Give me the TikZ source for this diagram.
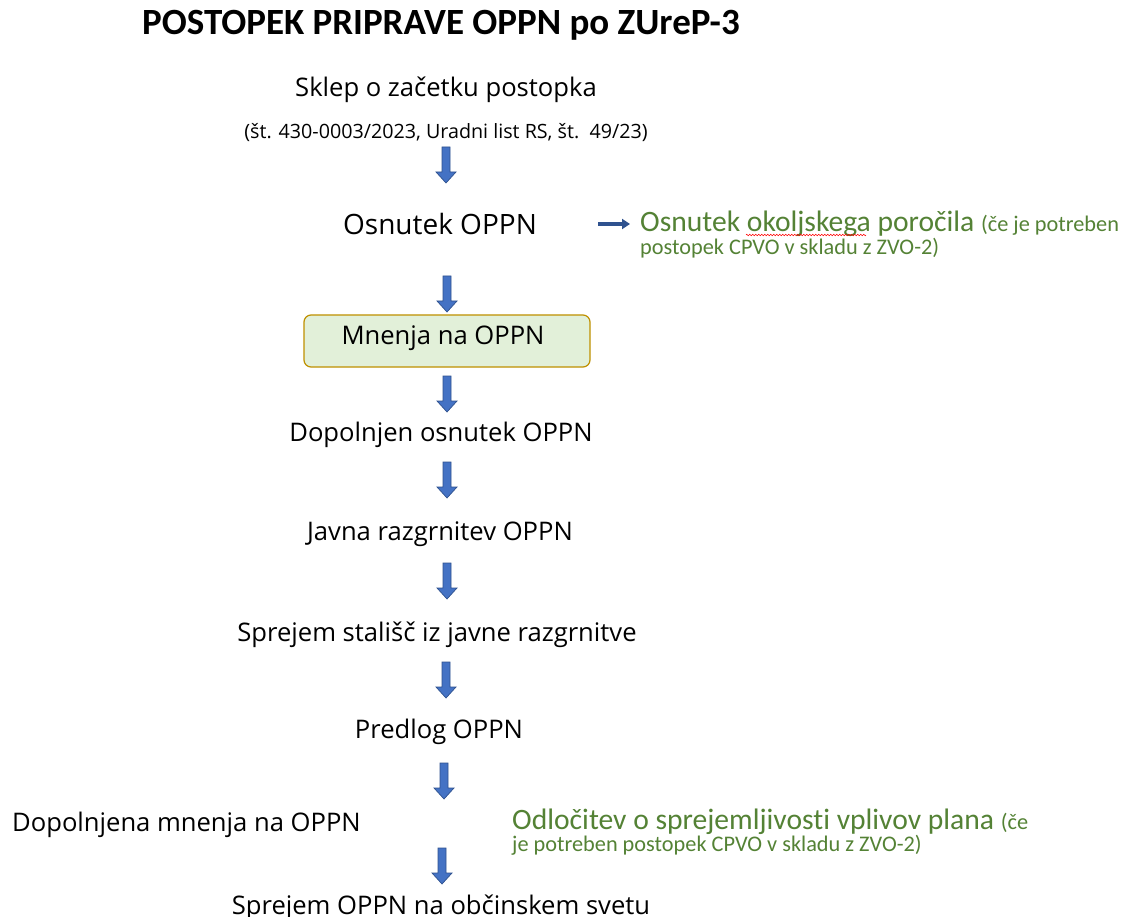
\documentclass[tikz,border=0pt]{standalone}
\usepackage{fontspec}
\setmainfont{Open Sans}
\newfontfamily\calibri[Ligatures=NoCommon]{Carlito}
\usetikzlibrary{calc,arrows.meta,decorations.pathmorphing}
\definecolor{arrowblue}{HTML}{4472C4}
\definecolor{arrowedge}{HTML}{2F528F}
\definecolor{greentxt}{HTML}{548235}
\definecolor{boxfill}{HTML}{E2F0D9}
\definecolor{boxedge}{HTML}{BF9000}
\newcommand{\fs}[1]{\fontsize{#1}{#1}\selectfont}
\begin{document}
\begin{tikzpicture}[x=1pt,y=-1pt,
  steptext/.style={inner sep=0pt, anchor=center, font=\fs{25.6}},
  greenbig/.style={inner sep=0pt, anchor=base west, text=greentxt, font=\calibri\fs{29.6}},
  greensmall/.style={inner sep=0pt, anchor=base west, text=greentxt, font=\calibri\fs{22.3}},
  stepbox/.style={draw=boxedge, fill=boxfill, line width=1.2pt, rounded corners=7pt},
  downarrow/.pic={
    \filldraw[fill=arrowblue, draw=arrowedge, line width=0.7pt]
      (-4,0) -- (4,0) -- (4,25) -- (10,25) -- (0,36) -- (-10,25) -- (-4,25) -- cycle;
  },
  rightarrow/.style={draw=arrowedge, line width=3.5pt, -{Triangle[width=10pt,length=8pt]}}
]
\useasboundingbox[fill=white] (0,0) rectangle (1127,917);

\node[inner sep=0pt, font=\calibri\bfseries\fs{37}] (title) at (441,25) {POSTOPEK PRIPRAVE OPPN po ZUreP-3};

\node[steptext] (sklep) at (446,90) {Sklep o začetku postopka};
\node[steptext, font=\fs{19.7}] (ref) at (446,133) {(št. 430-0003/2023, Uradni list RS, št.\ \ 49/23)};
\pic at (446,147) {downarrow};

\node[steptext, font=\fs{28}] (osn) at (440,224) {Osnutek OPPN};
\coordinate (ga) at (598,224);
\node[greenbig] (osnokolje) at (640,232) {Osnutek okoljskega poročila \calibri\fs{22.3}(če je potreben};
\node[greensmall] (osnokolje2) at (640,255) {postopek CPVO v skladu z ZVO-2)};
\coordinate (gb) at (630,224);
\draw[rightarrow] (ga) -- (gb);
\draw[red, line width=0.6pt, decorate, decoration={zigzag, amplitude=0.8pt, segment length=3pt}] (746,235) -- (866,235);

\pic at (447,276) {downarrow};
\draw[stepbox] (304,315) rectangle (590,367);
\node[steptext] (mnenja) at (443,338) {Mnenja na OPPN};

\pic at (447,376) {downarrow};
\node[steptext] (dop) at (441,435) {Dopolnjen osnutek OPPN};

\pic at (447,462) {downarrow};
\node[steptext] (javna) at (440,534) {Javna razgrnitev OPPN};

\pic at (447,563) {downarrow};
\node[steptext] (sprejem) at (437,635) {Sprejem stališč iz javne razgrnitve};

\pic at (446,662) {downarrow};
\node[steptext] (predlog) at (439,732) {Predlog OPPN};

\pic at (444,763) {downarrow};
\node[steptext, anchor=west] (dopmn) at (12,825) {Dopolnjena mnenja na OPPN};
\node[greenbig] (odl) at (512,829) {Odločitev o sprejemljivosti vplivov plana \calibri\fs{22.3}(če};
\node[greensmall] (odl2) at (512,851) {je potreben postopek CPVO v skladu z ZVO-2)};

\pic at (442,848) {downarrow};
\node[steptext] (final) at (441,908) {Sprejem OPPN na občinskem svetu};
\end{tikzpicture}
\end{document}
